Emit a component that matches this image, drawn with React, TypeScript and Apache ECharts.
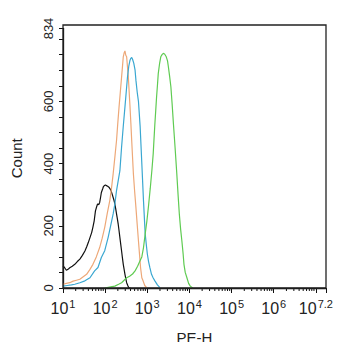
import React, { useEffect, useRef } from "react";
import * as echarts from "echarts";

// x values are log10(PE-H intensity)
const blackX = [1.00, 1.04, 1.08, 1.12, 1.16, 1.22, 1.28, 1.34, 1.40, 1.46, 1.52, 1.56, 1.60, 1.64, 1.68, 1.71, 1.74, 1.77, 1.80, 1.82, 1.85, 1.87, 1.89, 1.91, 1.94, 1.96, 1.98, 2.01, 2.03, 2.06, 2.09, 2.12, 2.14, 2.17, 2.19, 2.21, 2.23, 2.25, 2.27, 2.29, 2.31, 2.33, 2.35, 2.37, 2.39, 2.41, 2.43, 2.45, 2.47, 2.49, 2.51, 2.54, 2.56, 2.60];
const blackY = [71, 65, 57, 60, 65, 70, 76, 85, 93, 105, 119, 132, 146, 162, 178, 196, 216, 248, 262, 270, 268, 275, 290, 307, 318, 326, 329, 331, 329, 327, 324, 318, 313, 300, 291, 282, 270, 255, 238, 222, 205, 184, 162, 140, 119, 97, 76, 60, 44, 30, 17, 7, 1, 0];

const orangeX = [1.00, 1.08, 1.16, 1.24, 1.32, 1.40, 1.48, 1.56, 1.64, 1.71, 1.79, 1.87, 1.93, 1.99, 2.05, 2.11, 2.15, 2.19, 2.23, 2.27, 2.30, 2.33, 2.36, 2.39, 2.41, 2.43, 2.45, 2.47, 2.49, 2.51, 2.53, 2.55, 2.57, 2.59, 2.61, 2.63, 2.65, 2.67, 2.70, 2.73, 2.76, 2.79, 2.82, 2.84, 2.87, 2.90, 2.94, 2.99];
const orangeY = [12, 15, 17, 22, 25, 28, 36, 44, 60, 76, 100, 130, 160, 195, 240, 281, 320, 367, 420, 474, 530, 582, 630, 678, 710, 743, 755, 762, 748, 743, 710, 678, 630, 582, 530, 474, 420, 367, 310, 259, 205, 152, 100, 66, 33, 23, 8, 0];

const cyanX = [1.00, 1.10, 1.20, 1.28, 1.40, 1.52, 1.64, 1.75, 1.83, 1.91, 1.99, 2.07, 2.13, 2.19, 2.23, 2.27, 2.31, 2.35, 2.39, 2.43, 2.47, 2.50, 2.53, 2.56, 2.59, 2.61, 2.63, 2.65, 2.68, 2.71, 2.73, 2.76, 2.79, 2.83, 2.87, 2.91, 2.95, 2.98, 3.00, 3.03, 3.06, 3.10, 3.14, 3.18, 3.24, 3.30];
const cyanY = [6, 8, 10, 12, 17, 23, 33, 55, 66, 98, 120, 162, 200, 238, 270, 313, 345, 377, 453, 520, 582, 630, 678, 712, 732, 738, 741, 735, 722, 700, 668, 630, 600, 520, 400, 280, 174, 135, 110, 85, 66, 44, 32, 23, 10, 1];

const greenX = [1.99, 2.10, 2.23, 2.32, 2.39, 2.45, 2.51, 2.58, 2.65, 2.71, 2.77, 2.83, 2.87, 2.91, 2.95, 2.99, 3.03, 3.07, 3.11, 3.14, 3.16, 3.18, 3.20, 3.22, 3.24, 3.26, 3.29, 3.32, 3.35, 3.38, 3.41, 3.45, 3.48, 3.50, 3.53, 3.56, 3.59, 3.62, 3.66, 3.70, 3.73, 3.76, 3.79, 3.82, 3.85, 3.87, 3.90, 3.94, 3.98, 4.02, 4.08];
const greenY = [0, 3, 6, 12, 17, 25, 33, 38, 45, 55, 70, 88, 100, 130, 174, 215, 265, 320, 380, 431, 480, 528, 570, 614, 650, 689, 720, 743, 750, 754, 752, 743, 730, 711, 680, 646, 590, 528, 450, 367, 300, 238, 190, 152, 110, 76, 50, 33, 15, 6, 0];

const yTickLabels = [0, 200, 400, 600, 834];
const xDecades = [1, 2, 3, 4, 5, 6, 7];
const xMaxLabel = "7.2";

const FONT = "Liberation Sans, Arial, sans-serif";
const TEXT = "#222";

function zip(xs: number[], ys: number[]) {
  return xs.map((x, i) => [x, ys[i]]);
}

// minor log ticks between decades (positions of 2..9 x 10^d)
const minorTicks: number[][] = [];
for (let d = 1; d < 7; d++) {
  for (let k = 2; k <= 9; k++) minorTicks.push([d + Math.log10(k), 0]);
}

export default function App() {
  const ref = useRef<HTMLDivElement>(null);
  useEffect(() => {
    if (!ref.current) return;
    const chart = echarts.init(ref.current, undefined, { renderer: "svg" });
    const line = (data: number[][], color: string) => ({
      type: "line",
      data,
      showSymbol: false,
      symbol: "none",
      smooth: false,
      lineStyle: { color, width: 1.2 },
      z: 3,
    });
    chart.setOption({
      animation: false,
      grid: { left: 63, right: 16, top: 28.5, bottom: 62 },
      xAxis: {
        type: "value",
        min: 1,
        max: 7.24,
        interval: 1,
        name: "PE-H",
        nameLocation: "middle",
        nameGap: 42,
        nameTextStyle: { fontSize: 15, color: TEXT, fontFamily: FONT },
        axisLine: { show: true, lineStyle: { color: "#111", width: 1.3 } },
        axisTick: { show: true, inside: false, length: 5, lineStyle: { color: "#111", width: 1 } },
        splitLine: { show: false },
        axisLabel: {
          margin: 10,
          formatter: (v: number) => {
            const r = Math.round(v * 100) / 100;
            if (xDecades.indexOf(r) < 0) return "";
            const sup = r === 7 ? xMaxLabel : String(r);
            return `{b|10}{s|${sup}}`;
          },
          rich: {
            b: { fontSize: 16, color: TEXT, fontFamily: FONT, lineHeight: 21 },
            s: { fontSize: 11, color: TEXT, fontFamily: FONT, lineHeight: 10, verticalAlign: "top", padding: [0, 0, 0, 1] },
          },
        },
      },
      yAxis: {
        type: "value",
        min: 0,
        max: 834,
        interval: 50,
        name: "Count",
        nameLocation: "middle",
        nameGap: 39,
        nameTextStyle: { fontSize: 15, color: TEXT, fontFamily: FONT },
        axisLine: { show: true, lineStyle: { color: "#111", width: 1.3 } },
        axisTick: { show: true, inside: false, length: 4, lineStyle: { color: "#111", width: 1 } },
        splitLine: { show: false },
        axisLabel: {
          rotate: 90,
          margin: 8,
          fontSize: 13,
          color: TEXT,
          fontFamily: FONT,
          formatter: (v: number) => (yTickLabels.indexOf(Math.round(v)) >= 0 ? String(Math.round(v)) : ""),
        },
      },
      graphic: [
        {
          type: "rect",
          shape: { x: 63, y: 25, width: 263, height: 263 },
          style: { fill: "none", stroke: "#222", lineWidth: 1.3 },
          z: 10,
        },
      ],
      series: [
        line(zip(blackX, blackY), "#111111"),
        line(zip(orangeX, orangeY), "#EDA878"),
        line(zip(cyanX, cyanY), "#3AA7D1"),
        line(zip(greenX, greenY), "#5FCB52"),
        {
          type: "custom",
          clip: false,
          silent: true,
          data: minorTicks,
          renderItem: (params: any, api: any) => {
            const p = api.coord([api.value(0), 0]);
            return {
              type: "line",
              shape: { x1: p[0], y1: p[1], x2: p[0], y2: p[1] + 3 },
              style: { stroke: "#111", lineWidth: 1 },
            };
          },
          z: 4,
        },
      ],
    });
    return () => chart.dispose();
  }, []);
  return <div ref={ref} style={{ width: 342, height: 350, margin: -8 }} />;
}
